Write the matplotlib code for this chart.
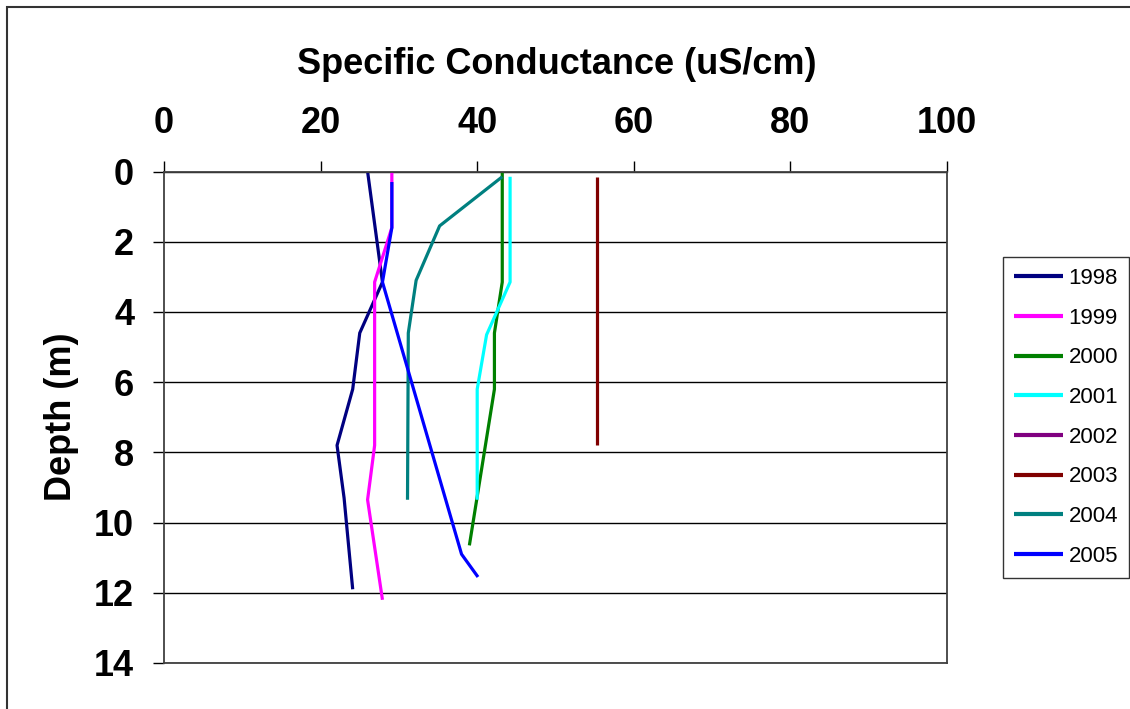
import matplotlib.pyplot as plt

plt.rcParams['font.family'] = ['Liberation Sans', 'DejaVu Sans']

# conductance (uS/cm) and depth (m) per year
sc_1998 = [26.0, 27.9, 25.0, 24.1, 22.1, 23.0, 24.1]
d_1998 = [0.0, 3.15, 4.6, 6.2, 7.8, 9.3, 11.9]

sc_1999 = [29.1, 29.1, 26.9, 26.9, 26.0, 27.9]
d_1999 = [0.0, 1.6, 3.15, 7.8, 9.35, 12.2]

sc_2000 = [43.2, 43.2, 42.2, 42.2, 39.0]
d_2000 = [0.0, 3.15, 4.6, 6.2, 10.65]

sc_2001 = [44.2, 44.2, 41.2, 40.0, 40.0]
d_2001 = [0.15, 3.15, 4.65, 6.2, 9.35]

sc_2002 = []
d_2002 = []

sc_2003 = [55.3, 55.3]
d_2003 = [0.15, 7.8]

sc_2004 = [43.2, 35.2, 32.2, 31.2, 31.1]
d_2004 = [0.15, 1.55, 3.1, 4.6, 9.35]

sc_2005 = [29.1, 29.1, 27.9, 38.0, 40.1]
d_2005 = [0.3, 1.6, 3.15, 10.9, 11.55]

years = ['1998', '1999', '2000', '2001', '2002', '2003', '2004', '2005']
colors = ['#000080', '#ff00ff', '#008000', '#00ffff', '#800080', '#800000', '#008080', '#0000ff']
series = [(sc_1998, d_1998), (sc_1999, d_1999), (sc_2000, d_2000), (sc_2001, d_2001),
          (sc_2002, d_2002), (sc_2003, d_2003), (sc_2004, d_2004), (sc_2005, d_2005)]

fig = plt.figure(figsize=(11.3, 7.09), dpi=100)
ax = fig.add_axes([164 / 1130, 1 - 663 / 709, (947 - 164) / 1130, (663 - 171.5) / 709])

for (x, y), yr, c in zip(series, years, colors):
    ax.plot(x, y, color=c, lw=2.3, label=yr, solid_capstyle='butt')

ax.set_xlim(0, 100)
ax.set_ylim(14, 0)
ax.set_xticks(range(0, 101, 20))
ax.set_yticks(range(0, 15, 2))
ax.xaxis.tick_top()
ax.xaxis.set_label_position('top')
ax.tick_params(axis='both', labelsize=26, length=8, width=1, color='black')
ax.tick_params(axis='x', pad=14)
ax.tick_params(axis='y', pad=13.5)
for lab in ax.get_xticklabels() + ax.get_yticklabels():
    lab.set_fontweight('bold')
ax.grid(axis='y', color='black', lw=1)
ax.set_axisbelow(True)
for s in ax.spines.values():
    s.set_color('#404040')
    s.set_linewidth(1.3)

ax.set_xlabel('Specific Conductance (uS/cm)', fontsize=26, fontweight='bold')
ax.xaxis.set_label_coords(0.501, (663 - 74) / 491.5)
ax.set_ylabel('Depth (m)', fontsize=26, fontweight='bold')
ax.yaxis.set_label_coords((79 - 164) / 783, (663 - 417) / 491.5)

leg = fig.legend(loc='upper left', bbox_to_anchor=(1003 / 1130, 1 - 257 / 709), fontsize=16,
                 frameon=True, fancybox=False, edgecolor='black', handlelength=2.2,
                 handletextpad=0.25, labelspacing=0.84, borderpad=0.5, borderaxespad=0)
leg.get_frame().set_linewidth(1)
for h in leg.get_lines():
    h.set_linewidth(3)

# outer chart border
fig.patches.append(plt.Rectangle((7 / 1130, -0.05), 1.1, 1 - 7 / 709 + 0.05,
                                 transform=fig.transFigure, fill=False, edgecolor='#333333', lw=1.5))

fig.savefig('out.png', dpi=100)
